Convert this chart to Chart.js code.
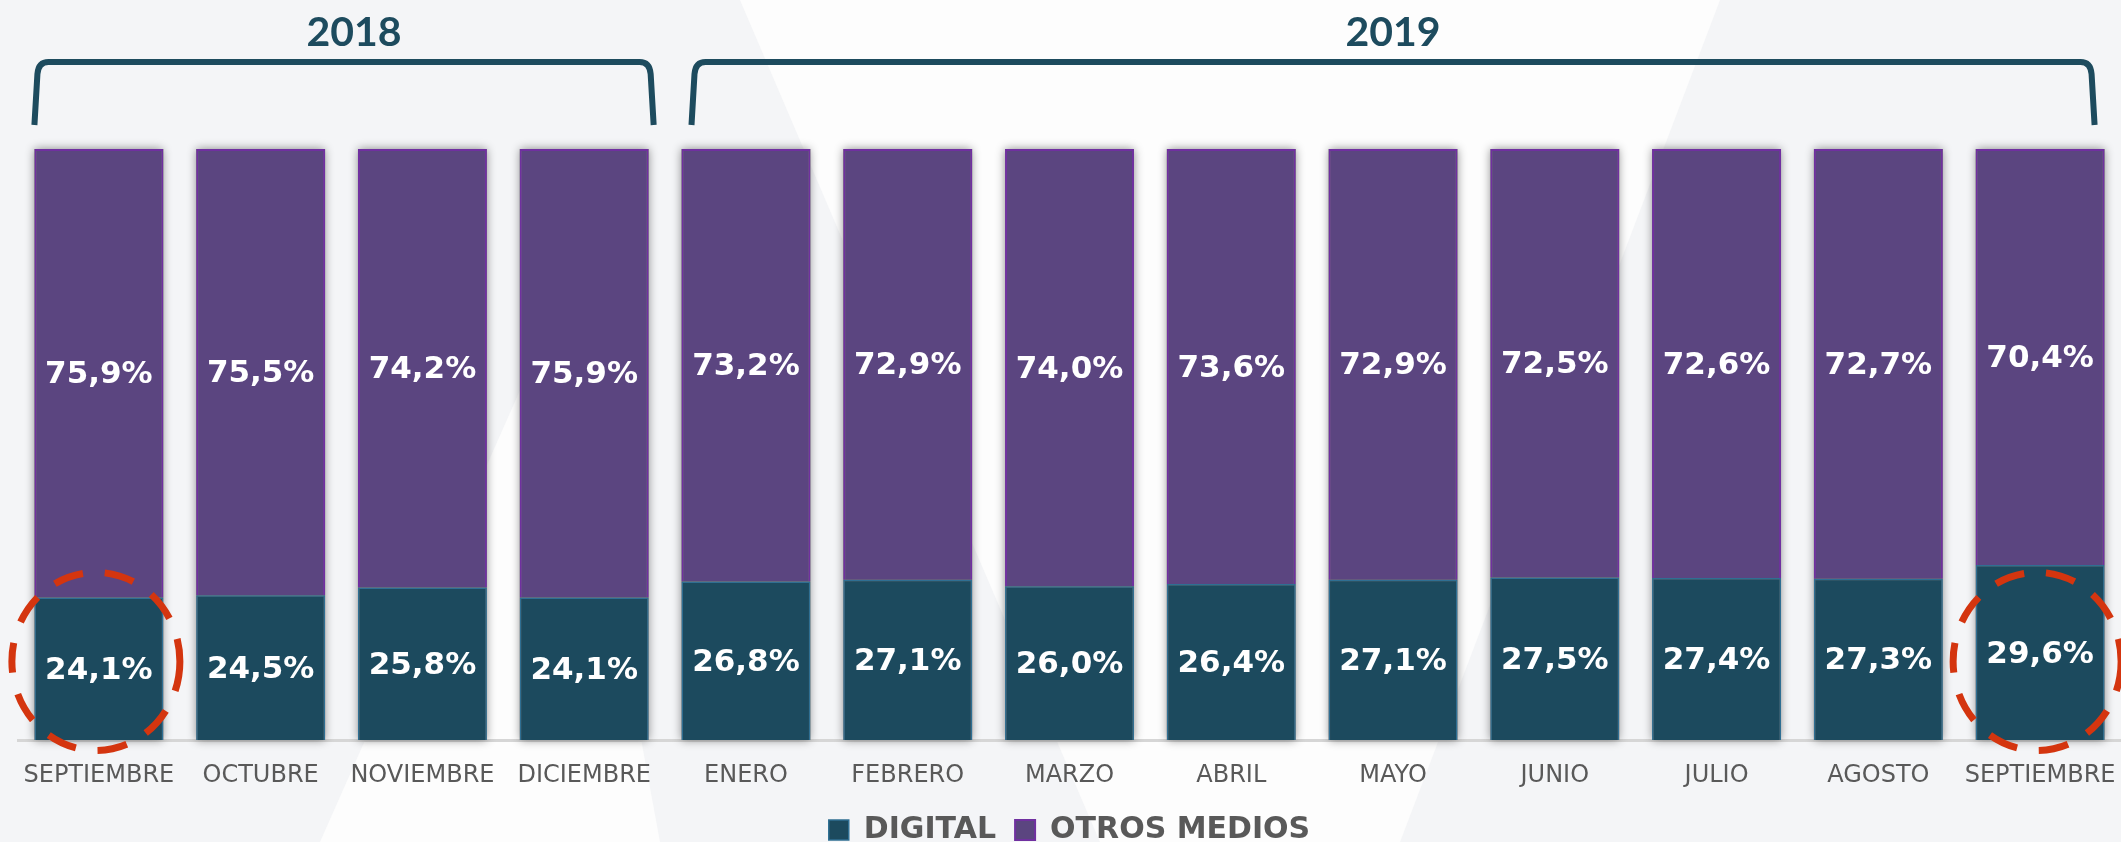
<!DOCTYPE html>
<html>
<head>
<meta charset="utf-8">
<script src="https://cdn.jsdelivr.net/npm/chart.js@4.4.1/dist/chart.umd.min.js"></script>
<style>
  html, body { margin: 0; padding: 0; background: #f5f6f8; }
  #wrap { width: 2121px; height: 842px; position: relative; }
</style>
</head>
<body>
<div id="wrap"><canvas id="chart" width="2121" height="842"></canvas></div>
<script>
const meses = ['SEPTIEMBRE', 'OCTUBRE', 'NOVIEMBRE', 'DICIEMBRE', 'ENERO', 'FEBRERO', 'MARZO',
               'ABRIL', 'MAYO', 'JUNIO', 'JULIO', 'AGOSTO', 'SEPTIEMBRE'];
const digital = [24.1, 24.5, 25.8, 24.1, 26.8, 27.1, 26.0, 26.4, 27.1, 27.5, 27.4, 27.3, 29.6];
const otrosMedios = [75.9, 75.5, 74.2, 75.9, 73.2, 72.9, 74.0, 73.6, 72.9, 72.5, 72.6, 72.7, 70.4];
// grupos de años: [primer índice, último índice, texto]
const anios = [[0, 3, '2018'], [4, 12, '2019']];
// barras destacadas con círculo rojo
const destacados = [0, 12];

const AZUL = '#1c4a5e';
const MORADO = '#5b4580';

const fmt = v => v.toFixed(1).replace('.', ',') + '%';

// fondo claro con algunas formas blancas
const fondo = {
    id: 'fondo',
    beforeDraw(chart) {
        const ctx = chart.ctx;
        ctx.save();
        ctx.fillStyle = '#f4f5f7';
        ctx.fillRect(0, 0, chart.width, chart.height);
        ctx.fillStyle = '#fdfdfd';
        ctx.beginPath();
        ctx.moveTo(740, 0); ctx.lineTo(1720, 0); ctx.lineTo(1400, 842); ctx.lineTo(1100, 842);
        ctx.closePath();
        ctx.fill();
        ctx.beginPath();
        ctx.moveTo(320, 842); ctx.lineTo(560, 300); ctx.lineTo(660, 842);
        ctx.closePath();
        ctx.fill();
        ctx.restore();
    }
};

// sombra detrás de cada barra apilada
const sombra = {
    id: 'sombra',
    beforeDatasetsDraw(chart) {
        const ctx = chart.ctx;
        const top = chart.getDatasetMeta(1).data;
        const base = chart.getDatasetMeta(0).data;
        ctx.save();
        ctx.shadowColor = 'rgba(0,0,0,0.45)';
        ctx.shadowBlur = 9;
        ctx.fillStyle = '#777';
        top.forEach((b, i) => {
            ctx.fillRect(b.x - b.width / 2, b.y, b.width, base[i].base - b.y);
        });
        ctx.restore();
    }
};

// etiquetas de valor, llaves de años y círculos
const extras = {
    id: 'extras',
    afterDatasetsDraw(chart) {
        const ctx = chart.ctx;
        ctx.save();
        ctx.fillStyle = '#ffffff';
        ctx.font = 'bold 31px "DejaVu Sans"';
        ctx.textAlign = 'center';
        ctx.textBaseline = 'middle';
        chart.data.datasets.forEach((ds, d) => {
            chart.getDatasetMeta(d).data.forEach((b, i) => {
                ctx.fillText(fmt(ds.data[i]), b.x, (b.y + b.base) / 2 + 2);
            });
        });

        const bars = chart.getDatasetMeta(0).data;
        ctx.strokeStyle = '#1d4b5e';
        ctx.lineWidth = 6;
        ctx.lineCap = 'butt';
        ctx.fillStyle = '#1d4b5e';
        ctx.font = 'bold 41px Lato';
        anios.forEach(([a, z, txt], k) => {
            let L = bars[a].x - bars[a].width / 2;
            let R = bars[z].x + bars[z].width / 2;
            let dx = 0;
            if (k === 0) { R += 5; dx = 10; } else { L += 10; R -= 10; }
            const yTop = 62, yBot = 125;
            ctx.beginPath();
            ctx.moveTo(L, yBot);
            ctx.lineTo(L + 3, yTop + 12);
            ctx.quadraticCurveTo(L + 4, yTop, L + 14, yTop);
            ctx.lineTo(R - 14, yTop);
            ctx.quadraticCurveTo(R - 4, yTop, R - 3, yTop + 12);
            ctx.lineTo(R, yBot);
            ctx.stroke();
            ctx.fillText(txt, (L + R) / 2 + dx, 33);
        });

        const yScale = chart.scales.y;
        ctx.strokeStyle = '#d4350f';
        ctx.lineWidth = 7;
        ctx.setLineDash([30, 22]);
        destacados.forEach(i => {
            const b = bars[i];
            ctx.beginPath();
            ctx.ellipse(b.x - 3, yScale.getPixelForValue(13.3), 84, 89, 0, 0, Math.PI * 2);
            ctx.stroke();
        });
        ctx.restore();
    }
};

new Chart(document.getElementById('chart'), {
    type: 'bar',
    data: {
        labels: meses,
        datasets: [
            {
                label: 'DIGITAL',
                data: digital,
                backgroundColor: AZUL,
                borderColor: '#2f6f93',
                borderWidth: 1.5,
                barPercentage: 0.797,
                categoryPercentage: 1
            },
            {
                label: 'OTROS MEDIOS',
                data: otrosMedios,
                backgroundColor: MORADO,
                borderColor: '#7030a0',
                borderWidth: 2,
                barPercentage: 0.797,
                categoryPercentage: 1
            }
        ]
    },
    options: {
        responsive: false,
        animation: false,
        devicePixelRatio: 1,
        layout: { padding: { top: 149, left: 18, right: 0, bottom: 0 } },
        scales: {
            x: {
                stacked: true,
                grid: { display: false, drawTicks: false },
                border: { display: true, color: '#d6d6d6', width: 3 },
                ticks: {
                    color: '#595959',
                    font: { family: 'DejaVu Sans', size: 24 },
                    padding: 21,
                    maxRotation: 0,
                    autoSkip: false
                },
                // la última etiqueta se corta en el borde, como en el original
                afterFit(scale) {
                    scale.paddingLeft = 0;
                    scale.paddingRight = 0;
                    scale.height = 56;
                }
            },
            y: {
                stacked: true,
                display: false,
                min: 0,
                max: 100
            }
        },
        plugins: {
            legend: {
                position: 'bottom',
                maxHeight: 46,
                labels: {
                    color: '#595959',
                    font: { family: 'DejaVu Sans', size: 30, weight: 'bold' },
                    boxWidth: 20,
                    boxHeight: 20,
                    padding: 19
                }
            },
            tooltip: { enabled: false }
        }
    },
    plugins: [fondo, sombra, extras]
});
</script>
</body>
</html>
